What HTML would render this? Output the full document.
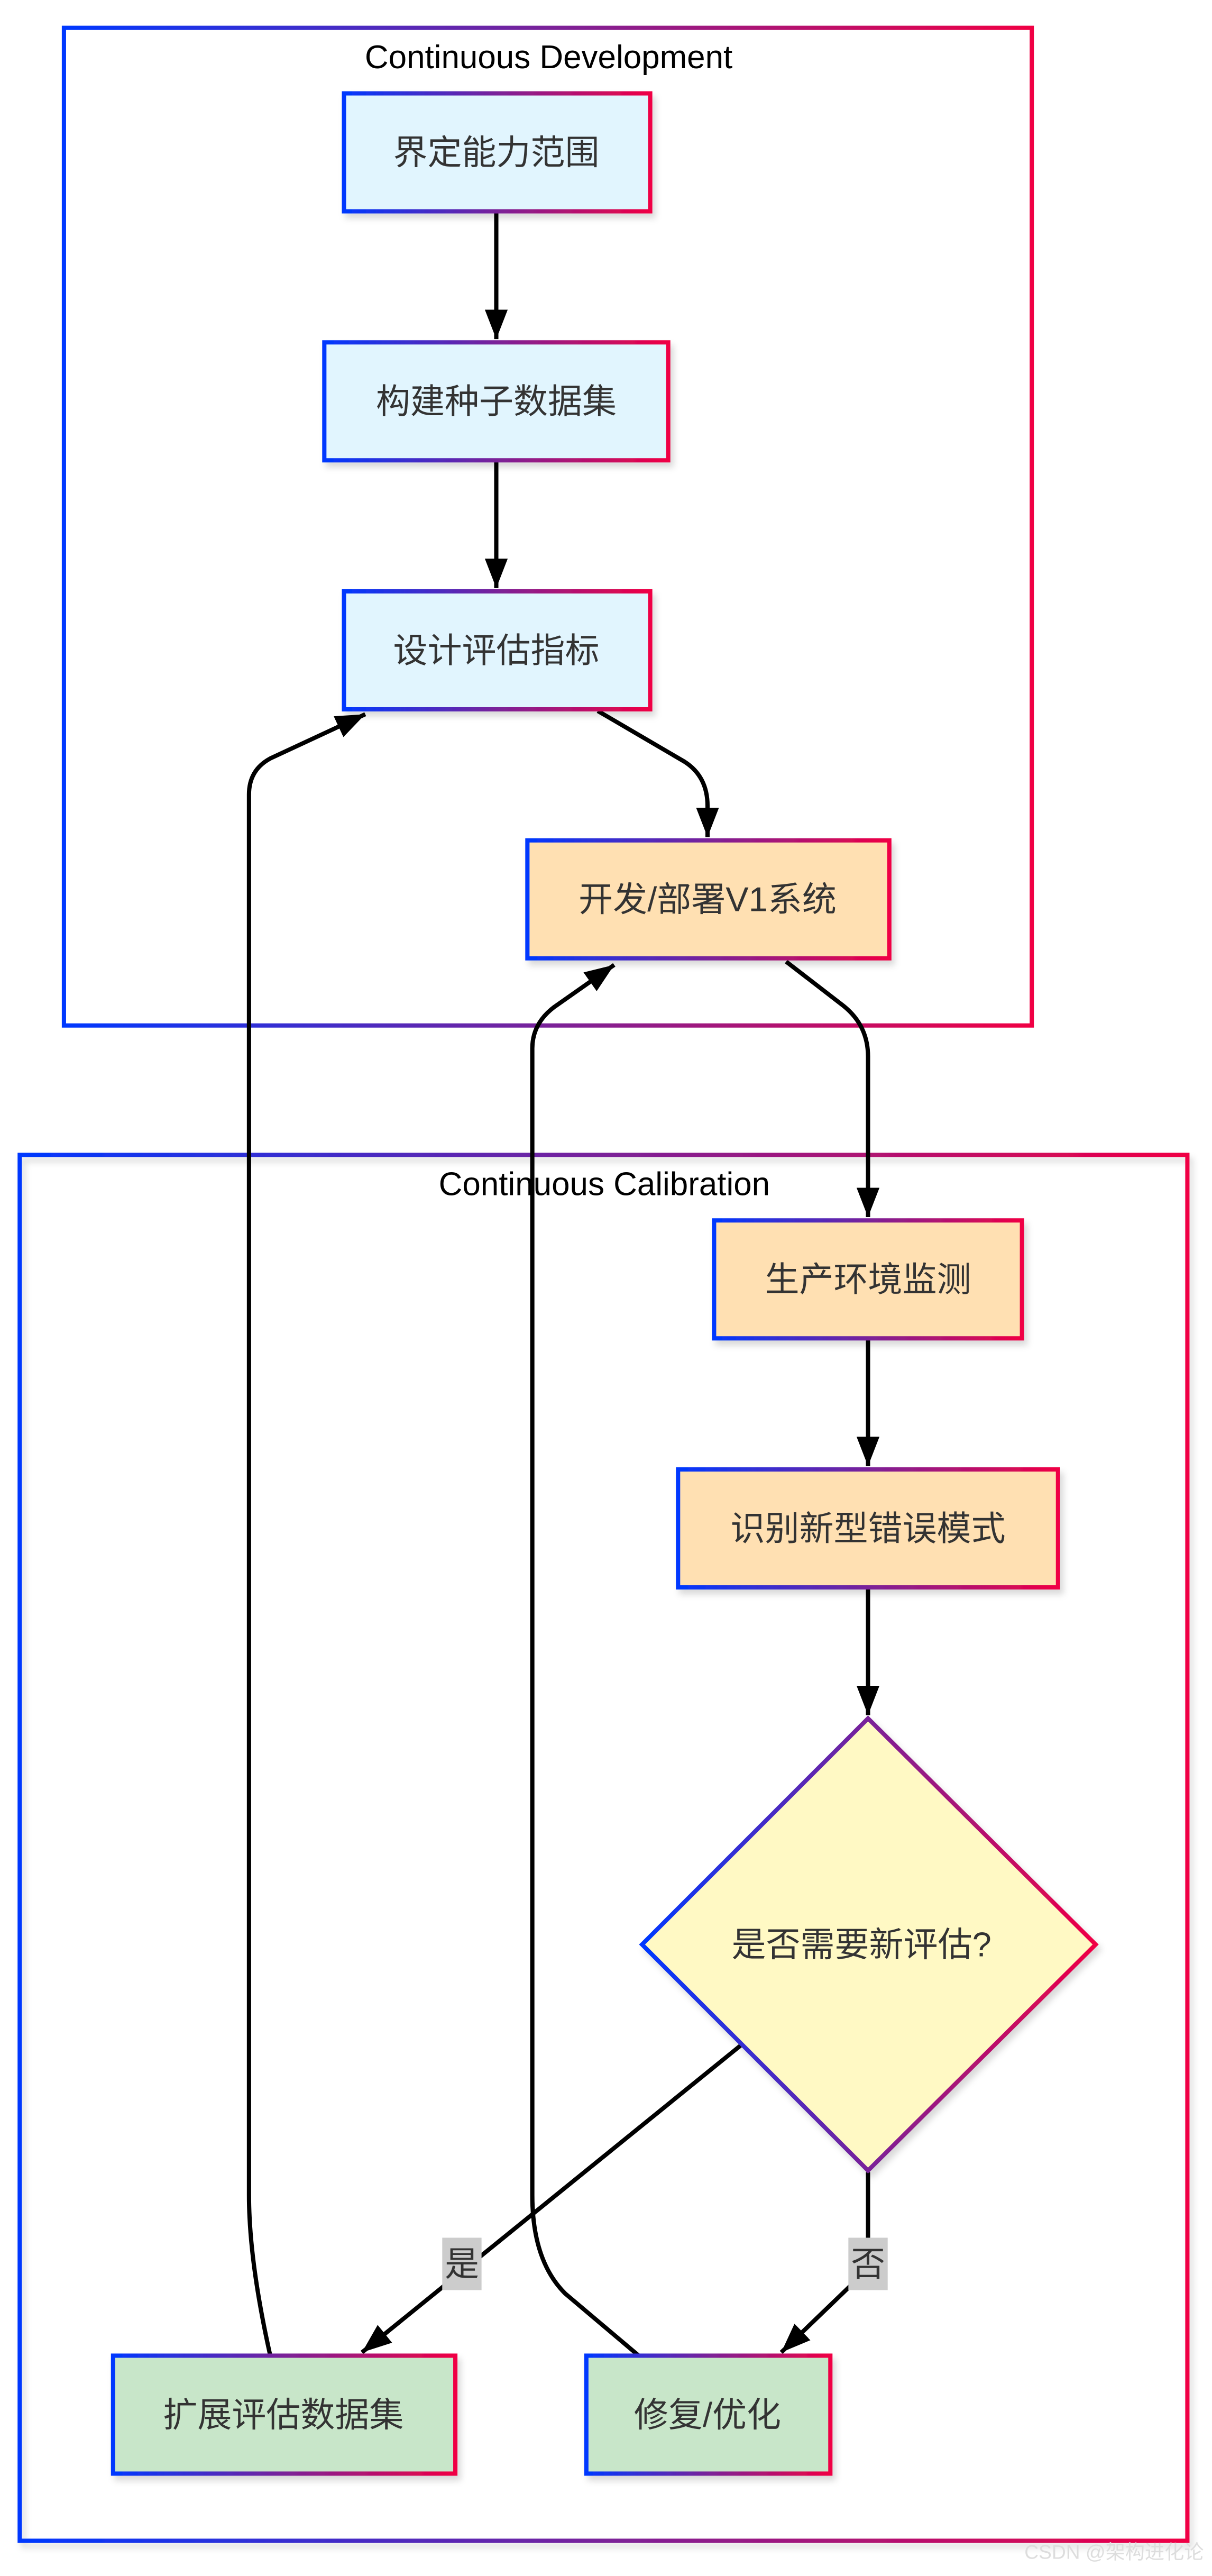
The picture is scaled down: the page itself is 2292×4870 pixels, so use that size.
<!DOCTYPE html>
<html><head><meta charset="utf-8"><style>
html,body{margin:0;padding:0;background:#fff;}
svg{display:block}
text{font-family:"Liberation Sans","Noto Sans CJK SC",sans-serif;}
</style></head><body>
<svg width="2292" height="4870" viewBox="0 0 740 1572.5" xmlns="http://www.w3.org/2000/svg">
<defs>
<linearGradient id="g" x1="0" y1="0" x2="1" y2="0">
<stop offset="0" stop-color="#0038ff"/><stop offset="0.5" stop-color="#7a2299"/><stop offset="1" stop-color="#f00044"/>
</linearGradient>
<filter id="sh" x="-10%" y="-10%" width="130%" height="140%"><feDropShadow dx="2" dy="3" stdDeviation="2" flood-color="#000" flood-opacity="0.15"/></filter>
<marker id="ar" viewBox="0 0 18 14" refX="18" refY="7" markerWidth="18" markerHeight="14" markerUnits="userSpaceOnUse" orient="auto">
<path d="M0,0 L18,7 L0,14 z" fill="#000"/></marker>
</defs>
<style>
.n{stroke:url(#g);stroke-width:2.6;filter:url(#sh)}
.t{font-size:21px;fill:#333;text-anchor:middle;dominant-baseline:central}
.e{fill:none;stroke:#000;stroke-width:2.6}
</style>
<rect x="39" y="17" width="591" height="609" fill="none" stroke="url(#g)" stroke-width="2.6"/>
<text x="335" y="35" font-size="20" text-anchor="middle" dominant-baseline="central" fill="#000">Continuous Development</text>
<rect x="12" y="705" width="713" height="846" fill="none" stroke="url(#g)" stroke-width="2.6" filter="url(#sh)"/>
<text x="369" y="723" font-size="20" text-anchor="middle" dominant-baseline="central" fill="#000">Continuous Calibration</text>

<!-- edges -->
<path class="e" d="M303,130 L303,207" marker-end="url(#ar)"/>
<path class="e" d="M303,282 L303,359" marker-end="url(#ar)"/>
<path class="e" d="M365,434 L418,465 Q432,474 432,492 L432,511" marker-end="url(#ar)"/>
<path class="e" d="M480,587 L515,614 Q530,626 530,645 L530,743" marker-end="url(#ar)"/>
<path class="e" d="M530,818 L530,895" marker-end="url(#ar)"/>
<path class="e" d="M530,970 L530,1047" marker-end="url(#ar)"/>
<path class="e" d="M453,1248 L221,1436" marker-end="url(#ar)"/>
<path class="e" d="M530,1326 L530,1385 L477,1436" marker-end="url(#ar)"/>
<path class="e" d="M165,1438 Q152,1380 152,1340 L152,485 Q152,470 165,463 L223,436" marker-end="url(#ar)"/>
<path class="e" d="M390,1438 L345,1400 Q325,1380 325,1340 L325,640 Q325,625 338,615 L375,589" marker-end="url(#ar)"/>
<rect x="270" y="1366" width="24" height="32" fill="#ccc"/>
<text class="t" x="282" y="1382">是</text>
<rect x="518" y="1366" width="24" height="32" fill="#ccc"/>
<text class="t" x="530" y="1382">否</text>

<!-- nodes -->
<rect class="n" x="210" y="57" width="187" height="72" fill="#e1f5fe"/>
<text class="t" x="303" y="93">界定能力范围</text>
<rect class="n" x="198" y="209" width="210" height="72" fill="#e1f5fe"/>
<text class="t" x="303" y="245">构建种子数据集</text>
<rect class="n" x="210" y="361" width="187" height="72" fill="#e1f5fe"/>
<text class="t" x="303" y="397">设计评估指标</text>
<rect class="n" x="322" y="513" width="221" height="72" fill="#ffe0b2"/>
<text class="t" x="432" y="549">开发/部署V1系统</text>
<rect class="n" x="436" y="745" width="188" height="72" fill="#ffe0b2"/>
<text class="t" x="530" y="781">生产环境监测</text>
<rect class="n" x="414" y="897" width="232" height="72" fill="#ffe0b2"/>
<text class="t" x="530" y="933">识别新型错误模式</text>
<polygon class="n" points="530,1049 669,1187 530,1325 392,1187" fill="#fff9c4"/>
<text class="t" x="526" y="1187">是否需要新评估?</text>
<rect class="n" x="69" y="1438" width="209" height="72" fill="#c8e6c9"/>
<text class="t" x="173" y="1474">扩展评估数据集</text>
<rect class="n" x="358" y="1438" width="149" height="72" fill="#c8e6c9"/>
<text class="t" x="432" y="1474">修复/优化</text>
<text x="735" y="1562" font-size="12" text-anchor="end" fill="#ddd">CSDN @架构进化论</text>
</svg>
</body></html>
